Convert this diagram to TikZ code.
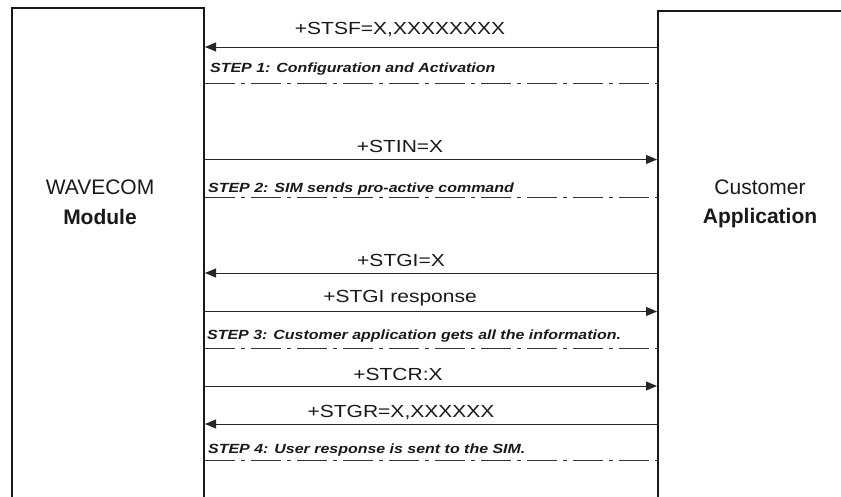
\documentclass[tikz,border=0pt]{standalone}
\usepackage{fontspec}
\setmainfont{Liberation Sans}
\newfontfamily\msgfont{Liberation Sans}[FakeStretch=1.2]
\newfontfamily\stepfont{Liberation Sans}[FakeStretch=1.2]
\usetikzlibrary{arrows.meta,positioning}

\tikzset{
  party/.style={draw=black!90, line width=2pt, inner sep=0pt, anchor=north west, minimum height=560pt},
  partytext/.style={inner sep=0pt, anchor=base, text=black!90, font=\fontsize{21}{24}\selectfont},
  msglabel/.style={inner sep=0pt, anchor=base, text=black!90, font=\msgfont\fontsize{17.5}{20}\selectfont},
  steplabel/.style={inner sep=0pt, anchor=base west, text=black!90, font=\stepfont\bfseries\itshape\fontsize{13.3}{15}\selectfont},
  msg/.style={draw=black!85, line width=0.9pt, -{Triangle[length=11pt,width=9pt]}},
  stepline/.style={draw=black!80, line width=0.8pt, dash pattern=on 30pt off 6pt on 4pt off 6pt}
}

\begin{document}
\begin{tikzpicture}[x=1pt,y=-1pt]
\useasboundingbox (0,0) rectangle (841,497);

% the two parties
\node[party, minimum width=192pt] (module) at (11,7) {};
\node[party, minimum width=260pt] (app) at (657,10) {};
\node[partytext] (wavecom) at (100,195) {WAVECOM};
\node[partytext] (modname) at (100,225) {\bfseries Module};
\node[partytext] (customer) at (760,195) {Customer};
\node[partytext] (appname) at (760,224) {\bfseries Application};

% message heights
\coordinate (m1) at (0,47);
\coordinate (s1) at (0,83.5);
\coordinate (m2) at (0,159.5);
\coordinate (s2) at (0,197);
\coordinate (m3) at (0,273);
\coordinate (m4) at (0,311.5);
\coordinate (s3) at (0,348);
\coordinate (m5) at (0,386);
\coordinate (m6) at (0,424);
\coordinate (s4) at (0,460.5);

% step 1
\draw[msg] (app.west |- m1) -- (module.east |- m1);
\node[msglabel] (stsf) at (400,35) {+STSF=X,XXXXXXXX};
\node[steplabel] (step1) at (210,73) {STEP 1: Configuration and Activation};
\draw[stepline] (module.east |- s1) -- (app.west |- s1);

% step 2
\draw[msg] (module.east |- m2) -- (app.west |- m2);
\node[msglabel] (stin) at (400,153) {+STIN=X};
\node[steplabel] (step2) at (208,193) {STEP 2: SIM sends pro-active command};
\draw[stepline] (module.east |- s2) -- (app.west |- s2);

% step 3
\draw[msg] (app.west |- m3) -- (module.east |- m3);
\node[msglabel] (stgi) at (401,266) {+STGI=X};
\draw[msg] (module.east |- m4) -- (app.west |- m4);
\node[msglabel] (stgiresp) at (400,302) {+STGI response};
\node[steplabel] (step3) at (207,339) {STEP 3: Customer application gets all the information.};
\draw[stepline] (module.east |- s3) -- (app.west |- s3);

% step 4
\draw[msg] (module.east |- m5) -- (app.west |- m5);
\node[msglabel] (stcr) at (398,380) {+STCR:X};
\draw[msg] (app.west |- m6) -- (module.east |- m6);
\node[msglabel] (stgr) at (401,417) {+STGR=X,XXXXXX};
\node[steplabel] (step4) at (208,453) {STEP 4: User response is sent to the SIM.};
\draw[stepline] (module.east |- s4) -- (app.west |- s4);
\end{tikzpicture}
\end{document}
